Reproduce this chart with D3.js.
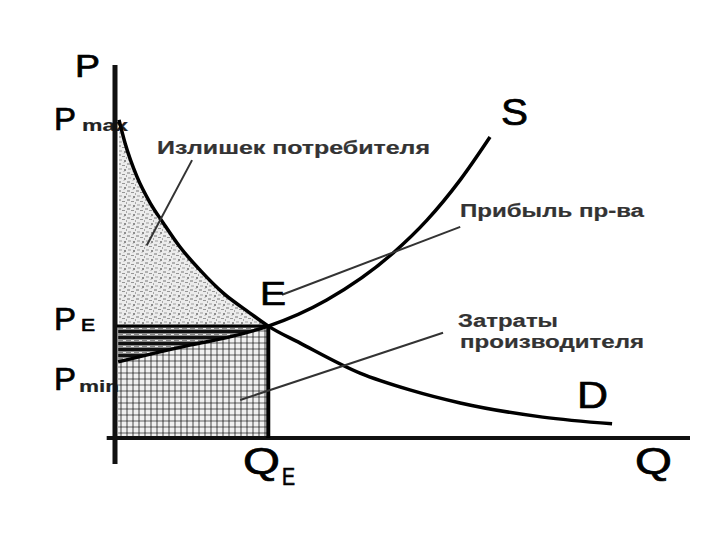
<!DOCTYPE html>
<html>
<head>
<meta charset="utf-8">
<script src="https://cdn.jsdelivr.net/npm/d3@7"></script>
<style>
body { margin: 0; background: #fff; }
text { font-family: "Liberation Sans", Arial, sans-serif; }
</style>
</head>
<body>
<svg width="720" height="540"></svg>
<script>
// demand curve D: quantity / price
var demandQ = [0.35, 1.4, 3.5, 5.8, 8.1, 11.0, 14.5, 18.5, 23.2, 26.4, 31.9, 42.4, 51.1, 59.9, 74.3, 86.4];
var demandP = [85.3, 79.1, 70.0, 63.0, 57.6, 51.2, 45.0, 38.9, 33.5, 30.0, 25.5, 17.4, 12.9, 9.4, 5.6, 3.8];
// supply curve S
var supplyQ = [0.2, 12.7, 20.2, 26.4, 36.6, 48.2, 54.1, 59.9, 65.1];
var supplyP = [20.4, 24.9, 27.3, 30.0, 37.0, 49.6, 58.4, 69.2, 80.7];
// equilibrium E
var eqQ = 26.4, eqP = 30.0;
var areaNames = ['Излишек потребителя', 'Прибыль пр-ва', 'Затраты', 'производителя'];

var svg = d3.select('svg');

var x = d3.scaleLinear().domain([0, 100]).range([117, 690]);
var y = d3.scaleLinear().domain([0, 100]).range([438, 65]);

var demand = demandQ.map(function(q, i) { return {q: q, p: demandP[i]}; });
var supply = supplyQ.map(function(q, i) { return {q: q, p: supplyP[i]}; });
var demandLeft = demand.filter(function(d) { return d.q <= eqQ; });
var supplyLeft = supply.filter(function(d) { return d.q <= eqQ; });

// fill patterns
var defs = svg.append('defs');

var speckle = defs.append('pattern')
    .attr('id', 'speckle')
    .attr('patternUnits', 'userSpaceOnUse')
    .attr('width', 9).attr('height', 9);
speckle.append('rect').attr('width', 9).attr('height', 9).style('fill', '#ececec');
[[1, 1, 3, 2, '#b0b0b0'], [5, 3, 3, 1, '#969696'], [2, 6, 3, 2, '#c4c4c4'], [7, 7, 2, 2, '#8e8e8e'], [6, 0, 2, 1, '#d0d0d0'], [0, 4, 1, 2, '#a8a8a8']]
    .forEach(function(r) {
        speckle.append('rect')
            .attr('x', r[0]).attr('y', r[1])
            .attr('width', r[2]).attr('height', r[3])
            .style('fill', r[4]);
    });

var stripes = defs.append('pattern')
    .attr('id', 'stripes')
    .attr('patternUnits', 'userSpaceOnUse')
    .attr('width', 8).attr('height', 6);
stripes.append('rect').attr('width', 8).attr('height', 6).style('fill', '#8a8a8a');
stripes.append('rect').attr('y', 0).attr('width', 8).attr('height', 3).style('fill', '#111');
stripes.append('rect').attr('x', 3).attr('y', 4).attr('width', 3).attr('height', 1).style('fill', '#eee');

var grid = defs.append('pattern')
    .attr('id', 'grid')
    .attr('patternUnits', 'userSpaceOnUse')
    .attr('width', 6).attr('height', 6);
grid.append('rect').attr('width', 6).attr('height', 6).style('fill', '#f0f0f0');
grid.append('rect').attr('width', 2).attr('height', 6).style('fill', '#9c9c9c');
grid.append('rect').attr('width', 6).attr('height', 2).style('fill', '#a8a8a8');
grid.append('rect').attr('width', 2).attr('height', 2).style('fill', '#6e6e6e');

// areas
svg.append('path')
    .datum(demandLeft)
    .attr('d', d3.area()
        .x(function(d) { return x(d.q); })
        .y0(y(eqP))
        .y1(function(d) { return y(d.p); })
        .curve(d3.curveMonotoneX))
    .style('fill', 'url(#speckle)');

svg.append('path')
    .datum(supplyLeft)
    .attr('d', d3.area()
        .x(function(d) { return x(d.q); })
        .y0(y(eqP))
        .y1(function(d) { return y(d.p); })
        .curve(d3.curveMonotoneX))
    .style('fill', 'url(#stripes)');

svg.append('path')
    .datum(supplyLeft)
    .attr('d', d3.area()
        .x(function(d) { return x(d.q); })
        .y0(y(0))
        .y1(function(d) { return y(d.p); })
        .curve(d3.curveMonotoneX))
    .style('fill', 'url(#grid)');

// text helper
function label(t, px, py, size, width, weight, color) {
    return svg.append('text')
        .attr('x', px).attr('y', py)
        .attr('textLength', width)
        .attr('lengthAdjust', 'spacingAndGlyphs')
        .style('font-size', size + 'px')
        .style('font-weight', weight || 'normal')
        .style('fill', color || '#000')
        .style('stroke', color || '#000')
        .style('stroke-width', weight === 'bold' ? 0.2 : 0.7)
        .text(t);
}

// axis letters and price levels (drawn before the axis so it overlaps them)
label('P', 75, 77, 31, 25);
label('P', 54, 130, 31, 22);
label('max', 82, 131, 16, 46, 'bold', '#222');
label('P', 54, 330, 31, 22);
label('E', 81, 331, 17, 14);
label('P', 54, 390, 31, 22);
label('min', 79, 392, 16, 40, 'bold', '#222');

// axes
svg.append('line')
    .attr('x1', x(0) - 2).attr('x2', x(0) - 2)
    .attr('y1', y(100)).attr('y2', y(-7))
    .style('stroke', '#111').style('stroke-width', 5);
svg.append('line')
    .attr('x1', x(-1.8)).attr('x2', x(100))
    .attr('y1', y(0)).attr('y2', y(0))
    .style('stroke', '#111').style('stroke-width', 4);

// equilibrium lines
svg.append('line')
    .attr('x1', x(0)).attr('x2', x(eqQ))
    .attr('y1', y(eqP)).attr('y2', y(eqP))
    .style('stroke', '#000').style('stroke-width', 3);
svg.append('line')
    .attr('x1', x(eqQ)).attr('x2', x(eqQ))
    .attr('y1', y(eqP)).attr('y2', y(0))
    .style('stroke', '#000').style('stroke-width', 4);

// curves
var curveLine = d3.line()
    .x(function(d) { return x(d.q); })
    .y(function(d) { return y(d.p); })
    .curve(d3.curveMonotoneX);

svg.append('path').datum(demand).attr('d', curveLine)
    .style('fill', 'none').style('stroke', '#000').style('stroke-width', 3.5);
svg.append('path').datum(supply).attr('d', curveLine)
    .style('fill', 'none').style('stroke', '#000').style('stroke-width', 3.5);

// leader lines
var leaders = [
    [[13.1, 74.5], [5.2, 51.7]],
    [[59.9, 56.6], [28.8, 38.4]],
    [[56.9, 28.2], [21.5, 10.2]]
];
leaders.forEach(function(l) {
    svg.append('line')
        .attr('x1', x(l[0][0])).attr('y1', y(l[0][1]))
        .attr('x2', x(l[1][0])).attr('y2', y(l[1][1]))
        .style('stroke', '#333').style('stroke-width', 2);
});

// curve and point names
label('E', 260, 305, 34, 26);
label('S', 501, 125, 36, 27);
label('D', 577, 408, 36, 31);
label('Q', 635, 474, 36, 37);
label('Q', 243, 474, 36, 37);
label('E', 282, 485, 23, 13);

// area captions
label(areaNames[0], 157, 154, 18, 273, 'bold', '#333');
label(areaNames[1], 460, 217, 18, 184, 'bold', '#333');
label(areaNames[2], 458, 327, 18, 100, 'bold', '#333');
label(areaNames[3], 460, 348, 18, 184, 'bold', '#333');
</script>
</body>
</html>
